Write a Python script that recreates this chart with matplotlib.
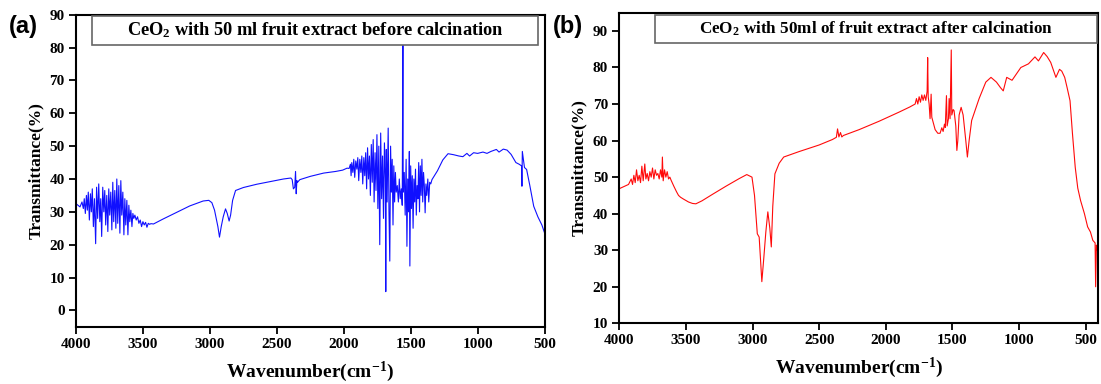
import matplotlib
matplotlib.use("Agg")
import matplotlib.pyplot as plt
from matplotlib.patches import Rectangle

# --- panel (a): before calcination (wavenumber cm-1, transmittance %) ---
wn_a = [4000, 3985, 3970, 3955, 3945, 3938, 3930, 3922, 3915, 3908, 3900, 3892, 3885,
        3878, 3870, 3862, 3853, 3846, 3838, 3830, 3822, 3815, 3808, 3800, 3792, 3785,
        3778, 3770, 3762, 3755, 3748, 3740, 3732, 3725, 3718, 3710, 3702, 3695, 3688,
        3680, 3672, 3665, 3658, 3650, 3642, 3635, 3628, 3620, 3612, 3605, 3598, 3590,
        3582, 3575, 3568, 3560, 3550, 3540, 3530, 3520, 3510, 3500, 3490, 3480, 3470,
        3460, 3450, 3440, 3421, 3350, 3250, 3150, 3050, 3008, 2985, 2965, 2950, 2940,
        2928, 2915, 2900, 2883, 2870, 2856, 2845, 2830, 2808, 2750, 2650, 2550, 2450,
        2395, 2385, 2376, 2366, 2360, 2355, 2350, 2345, 2328, 2250, 2150, 2060, 2008,
        1975, 1960, 1950, 1945, 1940, 1932, 1925, 1918, 1910, 1902, 1895, 1888, 1880,
        1872, 1865, 1858, 1850, 1843, 1836, 1829, 1822, 1815, 1808, 1801, 1794, 1787,
        1780, 1773, 1766, 1759, 1752, 1745, 1738, 1731, 1724, 1717, 1710, 1703, 1696,
        1689, 1686, 1682, 1676, 1668, 1662, 1656, 1650, 1644, 1638, 1632, 1626, 1620,
        1614, 1608, 1600, 1592, 1585, 1578, 1570, 1563, 1558, 1556, 1548, 1541, 1534,
        1528, 1522, 1516, 1510, 1506, 1500, 1494, 1488, 1482, 1476, 1470, 1464, 1458,
        1452, 1446, 1440, 1434, 1428, 1422, 1416, 1410, 1404, 1398, 1392, 1386, 1380,
        1372, 1365, 1358, 1350, 1341, 1300, 1260, 1221, 1180, 1140, 1110, 1080, 1060,
        1030, 1000, 960, 930, 900, 860, 840, 808, 780, 750, 714, 690, 672, 669, 666,
        650, 634, 610, 581, 550, 520, 500]
t_a = [32.5, 32.0, 31.5, 33.0, 31.0, 34.0, 29.5, 35.0, 30.5, 36.0, 27.5, 35.5, 30.0,
       37.0, 25.5, 34.0, 20.3, 37.5, 28.0, 38.5, 27.0, 34.0, 22.5, 37.5, 30.0, 36.5,
       26.0, 35.0, 24.0, 37.0, 29.0, 36.0, 24.5, 39.0, 27.0, 36.5, 25.0, 40.0, 26.5,
       38.0, 23.5, 39.5, 29.0, 36.0, 23.0, 34.0, 26.0, 33.5, 23.0, 32.0, 27.0, 30.5,
       25.5, 29.5, 28.0, 29.0, 27.5, 28.5, 26.5, 27.5, 25.5, 27.0, 26.0, 26.8, 25.3,
       26.5, 26.2, 26.4, 26.3, 27.8, 29.8, 31.8, 33.3, 33.5, 32.8, 30.5, 27.5, 25.5,
       22.3, 25.5, 28.5, 30.9, 29.5, 27.2, 29.0, 33.5, 36.5, 37.4, 38.4, 39.2, 40.0,
       40.3, 39.8, 37.0, 37.5, 42.3, 35.5, 39.5, 39.0, 39.8, 40.8, 41.8, 42.3, 42.7,
       43.3, 43.2, 44.5, 41.0, 45.0, 42.0, 46.0, 40.5, 45.5, 43.0, 46.5, 39.5, 46.0,
       42.0, 47.0, 38.5, 46.5, 41.0, 48.0, 37.0, 49.5, 40.0, 47.0, 35.0, 50.5, 39.0,
       52.0, 33.0, 48.0, 36.5, 53.5, 31.0, 50.0, 20.0, 54.0, 34.0, 47.0, 28.0, 51.0,
       40.0, 5.7, 49.0, 33.0, 55.5, 30.0, 15.0, 50.0, 36.0, 46.0, 26.0, 44.0, 33.0,
       42.0, 36.0, 38.0, 33.0, 40.0, 34.0, 37.0, 32.0, 88.0, 36.0, 42.0, 29.0, 46.0,
       19.5, 40.0, 30.0, 48.4, 13.5, 44.0, 31.0, 41.0, 25.0, 40.0, 33.0, 43.0, 29.0,
       38.0, 34.0, 45.0, 30.0, 44.0, 35.0, 46.0, 33.0, 42.0, 38.0, 29.7, 38.5, 35.0,
       40.0, 33.0, 39.0, 38.5, 39.8, 42.5, 45.8, 47.7, 47.4, 47.0, 46.8, 47.8, 47.0,
       48.0, 47.8, 48.2, 47.8, 48.4, 49.0, 48.2, 49.1, 48.8, 47.5, 45.0, 44.5, 44.0,
       37.8, 48.4, 43.5, 42.9, 38.0, 31.7, 28.5, 26.0, 23.6]

# --- panel (b): after calcination ---
wn_b = [4000, 3990, 3960, 3930, 3910, 3900, 3890, 3880, 3870, 3860, 3850, 3840, 3830,
        3820, 3808, 3800, 3790, 3780, 3770, 3760, 3750, 3740, 3730, 3720, 3710, 3700,
        3690, 3680, 3676, 3670, 3660, 3650, 3640, 3630, 3620, 3610, 3590, 3570, 3555,
        3540, 3518, 3480, 3450, 3425, 3380, 3300, 3200, 3100, 3043, 3004, 2985, 2964,
        2950, 2930, 2915, 2900, 2885, 2870, 2859, 2848, 2832, 2800, 2766, 2650, 2500,
        2400, 2371, 2362, 2352, 2340, 2330, 2318, 2200, 2050, 1900, 1820, 1780, 1770,
        1760, 1750, 1740, 1730, 1720, 1710, 1700, 1690, 1686, 1682, 1675, 1668, 1660,
        1655, 1645, 1630, 1610, 1593, 1580, 1570, 1560, 1554, 1545, 1540, 1530, 1525,
        1518, 1509, 1505, 1495, 1488, 1475, 1467, 1460, 1450, 1435, 1420, 1400, 1388,
        1375, 1356, 1300, 1250, 1211, 1170, 1140, 1119, 1093, 1053, 987, 930, 881, 855,
        816, 790, 763, 724, 697, 680, 658, 640, 618, 600, 579, 560, 539, 510, 486, 465,
        447, 430, 426, 420, 415, 410]
t_b = [46.8, 47.0, 47.5, 48.0, 49.5, 48.0, 50.5, 48.5, 52.0, 49.0, 50.5, 48.5, 53.0,
       49.0, 53.6, 49.5, 51.0, 49.0, 51.5, 50.0, 52.5, 49.5, 52.0, 50.5, 51.0, 49.5,
       52.0, 50.0, 55.5, 49.0, 52.0, 50.0, 51.5, 49.5, 50.0, 49.1, 47.5, 46.0, 45.0,
       44.5, 44.0, 43.2, 42.8, 42.7, 43.5, 45.3, 47.5, 49.6, 50.7, 50.0, 45.0, 34.5,
       33.6, 21.4, 28.0, 35.0, 40.5, 36.0, 30.9, 42.0, 50.9, 53.8, 55.5, 57.0, 58.8,
       60.3, 60.9, 63.2, 61.0, 62.2, 61.0, 61.4, 63.0, 65.3, 67.8, 69.2, 70.0, 71.5,
       70.0, 72.0, 70.5, 72.5, 71.0, 72.5, 71.0, 73.5, 82.7, 72.0, 70.0, 66.0, 72.7,
       66.4, 65.0, 63.0, 62.0, 62.0, 63.5, 62.5, 64.5, 63.6, 72.3, 64.0, 66.0, 71.5,
       66.0, 84.8, 67.0, 68.5, 68.2, 64.0, 57.3, 60.0, 67.0, 69.1, 67.0, 60.0, 55.5,
       60.0, 65.5, 71.5, 76.0, 77.3, 76.0, 74.5, 73.6, 77.3, 76.5, 80.0, 81.0, 82.9,
       81.8, 84.1, 83.0, 81.4, 77.3, 79.5, 79.0, 77.3, 74.5, 70.9, 62.0, 52.7, 47.0,
       43.6, 40.0, 36.4, 35.0, 32.7, 32.0, 20.0, 31.4, 30.0, 30.9]

xticks = [4000, 3500, 3000, 2500, 2000, 1500, 1000, 500]
yticks_a = list(range(0, 91, 10))
yticks_b = list(range(10, 91, 10))

title_a = "CeO$_2$ with 50 ml fruit extract before calcination"
title_b = "CeO$_2$ with 50ml of fruit extract after calcination"

plt.rcParams["font.family"] = "Liberation Serif"
plt.rcParams["font.weight"] = "bold"
plt.rcParams["mathtext.default"] = "regular"

fig = plt.figure(figsize=(11.01, 3.84), dpi=100)
ax_a = fig.add_axes([0.069, 0.149, 0.4256, 0.8125])
ax_b = fig.add_axes([0.5624, 0.158, 0.4349, 0.809])


def style(ax, yticks, ylim, xlim):
    ax.set_xlim(*xlim)
    ax.set_ylim(*ylim)
    ax.set_xticks(xticks)
    ax.set_yticks(yticks)
    ax.tick_params(direction="out", length=5, width=1.3, labelsize=11,
                   top=False, right=False, pad=3)
    for lab in ax.get_xticklabels() + ax.get_yticklabels():
        lab.set_fontweight("bold")
    for sp in ax.spines.values():
        sp.set_linewidth(1.5)
    ax.set_xlabel("Wavenumber(cm$^{-1}$)", fontsize=14, fontweight="bold", labelpad=6)
    ax.set_ylabel("Transmittance(%)", fontsize=12.5, fontweight="bold", labelpad=4)


def title_box(ax, x0, x1, y0, y1, text, size):
    ax.add_patch(Rectangle((x0, y0), x1 - x0, y1 - y0, transform=ax.transAxes,
                           facecolor="white", edgecolor="#666666", lw=1.2,
                           zorder=5, clip_on=False))
    ax.text((x0 + x1) / 2, (y0 + y1) / 2, text, transform=ax.transAxes,
            ha="center", va="center", fontsize=size, fontweight="bold", zorder=6)


ax_a.plot(wn_a, t_a, color="#1010ff", lw=0.8)
style(ax_a, yticks_a, (-5, 90), (4000, 500))
title_box(ax_a, 0.034, 0.987, 0.903, 0.996, title_a, 13.2)

ax_b.plot(wn_b, t_b, color="#ff0a0a", lw=0.8)
style(ax_b, yticks_b, (10, 95), (4000, 408))
title_box(ax_b, 0.0756, 0.998, 0.902, 0.993, title_b, 12.3)

fig.text(0.008, 0.915, "(a)", fontsize=17, fontweight="bold", family="Liberation Sans")
fig.text(0.502, 0.915, "(b)", fontsize=17, fontweight="bold", family="Liberation Sans")

fig.savefig("out.png", dpi=100)
